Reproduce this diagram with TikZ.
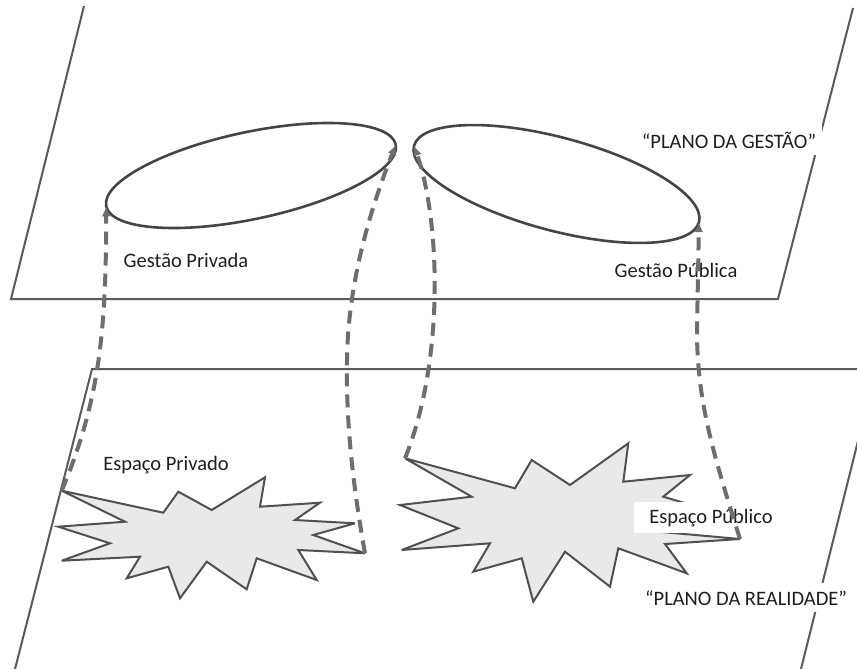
\documentclass[tikz,border=0pt]{standalone}
\usepackage{fontspec}
\setmainfont{Carlito}
\usetikzlibrary{shapes.geometric,arrows.meta}
\definecolor{planeline}{HTML}{5A5A5A}
\definecolor{ringline}{HTML}{454545}
\definecolor{linkgray}{HTML}{6E6E6E}
\definecolor{burstfill}{HTML}{E9E9E9}
\definecolor{burstline}{HTML}{505050}
\definecolor{labeltext}{HTML}{1E1E1E}
\begin{document}
\begin{tikzpicture}[x=1pt,y=-1pt,
  plane/.style={draw=planeline, line width=2pt, line join=miter},
  ring/.style={ellipse, draw=ringline, line width=2.6pt, inner sep=0pt, outer sep=0pt},
  burst/.style={fill=burstfill, draw=burstline, line width=2pt, line join=miter, miter limit=6},
  link/.style={draw=linkgray, line width=4pt, dash pattern=on 13pt off 8pt,
    -{Latex[length=10pt,width=9pt]}},
  lbl/.style={text=labeltext, font=\fontsize{20.5}{24}\selectfont, inner sep=2pt, anchor=base},
  tag/.style={lbl, fill=white, inner xsep=6pt, inner ysep=7pt}]
\useasboundingbox (0,0) rectangle (857,669);

% the two planes
\begin{scope}
  \clip (0,0) rectangle (857,669);
  \draw[plane] (84,6) -- (11,299) -- (778,299) -- (853,8);
  \draw[plane] (15,669) -- (92,369) -- (876,369) -- (801,669);
\end{scope}

% private space
\draw[burst] (61.7,490.7) -- (163.3,512.7) -- (178.3,491.7) -- (211.7,510) -- (265,477.3)
  -- (260,506.7) -- (320,502.7) -- (295,520) -- (355,523.3) -- (313.3,535) -- (365,553.3)
  -- (298.3,550) -- (316.7,580) -- (256.7,558.3) -- (246.7,589.3) -- (206.7,561.7)
  -- (180,598.3) -- (168.3,566.7) -- (126.7,578.3) -- (140,556.7) -- (61.7,560.7)
  -- (110,543.3) -- (58.3,526.7) -- (125,521.7) -- cycle;
\coordinate (lbL) at (61.7,490.7);
\coordinate (lbR) at (365,553.3);

% public space
\draw[burst] (405,458.3) -- (515,488.3) -- (531.7,460) -- (570,485) -- (628.3,443.3)
  -- (623.3,481.7) -- (690,475) -- (663.3,496.7) -- (715,512) -- (662,532) -- (740,539)
  -- (665,544) -- (686.7,573.3) -- (618.3,548.3) -- (610,586.7) -- (565,551.7)
  -- (533.3,601.7) -- (521.7,558.3) -- (473.3,571.7) -- (490,543.3) -- (401.7,550)
  -- (458.3,528.3) -- (400,505) -- (471.7,496.7) -- cycle;
\coordinate (rbL) at (405,458.3);
\coordinate (rbR) at (740,539);

% labels
\node[lbl] (gpriv) at (186,267) {Gestão Privada};
\node[lbl] (gpub) at (676,277) {Gestão Pública};
\node[tag] (plg) at (729,148) {“PLANO DA GESTÃO”};
\node[lbl] (epriv) at (166,470) {Espaço Privado};
\node[tag, inner xsep=15pt] (epub) at (711,523) {Espaço Público};
\node[tag] (plr) at (746,605) {“PLANO DA REALIDADE”};

% management rings
\node[ring, minimum width=296pt, minimum height=87pt, rotate=12] (gpr) at (251,175.5) {};
\node[ring, minimum width=295pt, minimum height=93pt, rotate=-15] (gpu) at (556.5,184) {};

% links from each space up to its management ring
\draw[link] (lbL) .. controls (100,400) and (106,330) .. (gpr.west);
\draw[link] (lbR) .. controls (352,480) and (346,420) .. (347,360)
  .. controls (348,280) and (372,205) .. (gpr.east);
\draw[link] (rbL) .. controls (445,360) and (440,220) .. (gpu.west);
\draw[link] (rbR) .. controls (712,450) and (697,400) .. (697,330) -- (gpu.east);
\end{tikzpicture}
\end{document}
